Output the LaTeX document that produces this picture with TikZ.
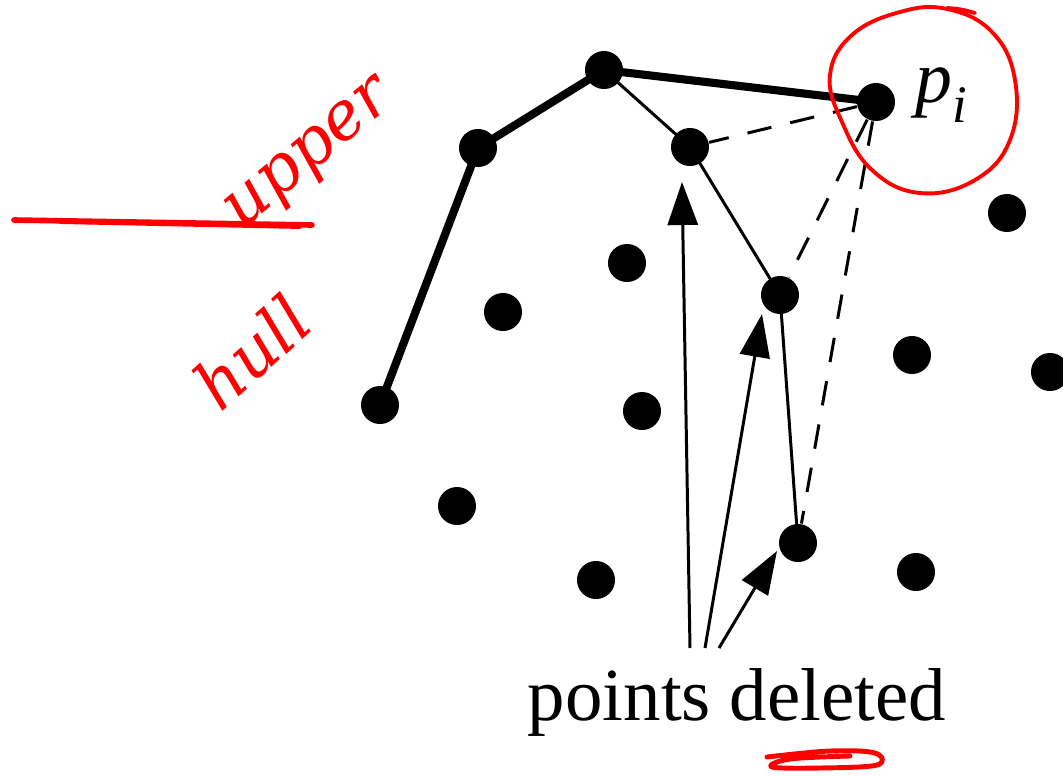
\documentclass[tikz,border=0pt]{standalone}
\usepackage{fontspec}
\setmainfont{Liberation Serif}
\newfontfamily\handfont{DejaVu Serif}
\usetikzlibrary{arrows.meta}
\tikzset{
  dot/.style={circle, fill=black, inner sep=0pt, minimum size=0.38cm},
  hull/.style={line width=2.3pt, line cap=round},
  chain/.style={line width=0.85pt},
  probe/.style={line width=0.85pt, dash pattern=on 7pt off 5.5pt},
  pointer/.style={line width=0.85pt, -{Triangle[length=0.43cm, width=0.3cm]}},
  ink/.style={red, line width=1.1pt, line cap=round, line join=round},
  scrawl/.style={red, inner sep=0pt, font=\handfont\itshape}
}
\begin{document}
\begin{tikzpicture}[x=0.01cm, y=-0.01cm]
\useasboundingbox (0,0) rectangle (1063,775);

% hull vertices and the point being added
\node[dot] (a) at (380,405) {};
\node[dot] (b) at (478,148) {};
\node[dot] (c) at (604,70) {};
\node[dot] (d) at (690,147) {};
\node[dot] (e) at (780,295) {};
\node[dot] (f) at (798,543) {};
\node[dot] (p) at (876,102) {};

% remaining points of the set
\node[dot] (q1) at (1007,213) {};
\node[dot] (q2) at (627,263) {};
\node[dot] (q3) at (503,312) {};
\node[dot] (q4) at (912,355) {};
\node[dot] (q5) at (1050,372) {};
\node[dot] (q6) at (642,411) {};
\node[dot] (q7) at (457,506) {};
\node[dot] (q8) at (596,580) {};
\node[dot] (q9) at (916,572) {};

% upper hull after inserting p_i
\draw[hull] (a.center) -- (b.center) -- (c.center) -- (p.center);
% old chain that gets removed
\draw[chain] (c.center) -- (d.center) -- (e.center) -- (f.center);
% tangent tests from p_i
\draw[probe] (p) -- (d);
\draw[probe] (p) -- (e);
\draw[probe] (p) -- (f);

\node[anchor=base west, inner sep=0pt, font=\fontsize{21}{21}\selectfont] (plabel) at (915,102)
  {\textit{p}\raisebox{-0.28em}{\fontsize{15}{15}\selectfont\textit{i}}};

% caption and its pointers
\node[anchor=base, inner sep=0pt, font=\fontsize{21.3}{21.3}\selectfont] (cap) at (737,720) {points deleted};
\coordinate (s1) at (690,648);
\coordinate (s2) at (705,648);
\coordinate (s3) at (719,648);
\coordinate (t1) at (682,182);
\coordinate (t2) at (762,314);
\coordinate (t3) at (777,551);
\draw[pointer] (s1) -- (t1);
\draw[pointer] (s2) -- (t2);
\draw[pointer] (s3) -- (t3);

% red annotations
\draw[ink, line width=1.6pt] (14,220) -- (312,225);
\draw[ink] (60,222) -- (300,227);
\node[scrawl, rotate=40, font=\handfont\itshape\fontsize{19}{19}\selectfont] (upper) at (312,158) {upper};
\node[scrawl, rotate=42, font=\handfont\itshape\fontsize{19}{19}\selectfont] (hulltext) at (252,352) {hull};
\draw[ink] plot[smooth cycle, tension=0.7] coordinates {
  (947,9) (992,32) (1015,80) (1010,140) (975,180) (920,193) (872,170)
  (842,122) (830,75) (852,35) (900,12)};
\draw[ink] (947,8) .. controls (960,9) .. (975,13);
\draw[ink, line width=1.4pt] plot[smooth, tension=0.6] coordinates {
  (767,757) (830,751) (875,753) (877,765) (820,768) (772,767) (790,759) (850,756)};
\end{tikzpicture}
\end{document}
